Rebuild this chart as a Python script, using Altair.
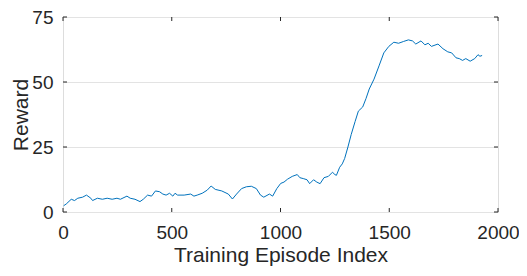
import altair as alt
import pandas as pd

episodes = [3, 15, 38, 53, 68, 90, 108, 128, 136, 158, 181, 203, 226, 248, 264, 294, 309, 331, 354, 369,
            389, 407, 425, 444, 459, 474, 490, 505, 515, 527, 557, 587, 602, 617, 640, 663, 681, 700, 730, 760,
            779, 798, 821, 843, 866, 889, 908, 923, 949, 964, 983, 1001, 1016, 1032, 1054, 1077, 1089, 1107, 1122, 1134,
            1152, 1167, 1182, 1200, 1220, 1239, 1250, 1257, 1272, 1284, 1295, 1310, 1325, 1343, 1358, 1378, 1393, 1408, 1430, 1453,
            1475, 1498, 1521, 1543, 1566, 1588, 1607, 1622, 1646, 1664, 1679, 1694, 1724, 1747, 1769, 1787, 1807, 1822, 1837, 1852,
            1872, 1893, 1908, 1917, 1927]
rewards = [2.4, 3.1, 4.9, 4.4, 5.3, 5.7, 6.5, 5.3, 4.4, 5.3, 4.9, 5.3, 4.9, 5.3, 4.9, 6.1, 5.3, 4.9, 4.0, 4.9,
           6.5, 6.1, 8.1, 7.8, 6.9, 6.5, 7.2, 6.1, 7.2, 6.5, 6.5, 6.9, 6.1, 6.5, 7.2, 8.4, 10.0, 8.7, 8.1, 6.9,
           5.0, 6.9, 9.0, 9.7, 9.9, 9.0, 6.5, 5.7, 6.9, 6.1, 9.0, 11.0, 11.5, 12.6, 13.7, 14.4, 13.2, 12.8, 12.4, 10.9,
           12.4, 11.5, 10.9, 13.2, 13.7, 15.3, 14.4, 14.1, 17.2, 18.5, 20.6, 25.0, 29.8, 34.8, 38.8, 40.4, 43.6, 47.3, 51.1, 56.2,
           61.2, 63.7, 65.3, 64.9, 65.6, 66.2, 65.8, 64.6, 65.8, 64.3, 64.9, 63.7, 64.6, 62.8, 61.6, 61.2, 59.3, 59.0, 58.3, 59.0,
           58.0, 59.0, 60.5, 59.9, 60.2]
x_ticks = [0, 500, 1000, 1500, 2000]
y_ticks = [0, 25, 50, 75]

W, H = 435, 195
FONT = "Liberation Sans"
TXT = "#262626"

df = pd.DataFrame({"episode": episodes, "reward": rewards})
xt = pd.DataFrame({"episode": x_ticks})
yt = pd.DataFrame({"reward": y_ticks})

xscale = alt.Scale(domain=[0, 2000], nice=False)
yscale = alt.Scale(domain=[0, 75], nice=False)

x_axis = alt.Axis(values=x_ticks, format="d", grid=False, ticks=False, tickSize=0, domain=False,
                  labelFlush=False, labelFont=FONT, labelFontSize=19, labelColor=TXT, labelPadding=11,
                  title="Training Episode Index", titleFont=FONT, titleFontSize=21,
                  titleFontWeight="normal", titleColor=TXT, titleY=43, titleBaseline="middle")
y_axis = alt.Axis(values=y_ticks, format="d", grid=True, gridColor="#E3E3E3", gridWidth=1, ticks=False,
                  tickSize=0, domain=False, labelFlush=False, labelFont=FONT, labelFontSize=19,
                  labelColor=TXT, labelPadding=10,
                  title="Reward", titleFont=FONT, titleFontSize=21, titleFontWeight="normal",
                  titleColor=TXT, titleX=-42, titleY=H / 2, titleBaseline="middle", titleAngle=-90)

X = alt.X("episode:Q", scale=xscale, axis=x_axis)
Y = alt.Y("reward:Q", scale=yscale, axis=y_axis)

line = alt.Chart(df).mark_line(color="#0072BD", strokeWidth=1).encode(x=X, y=Y)

tick_col = "#262626"
xb = alt.Chart(xt).mark_rule(color=tick_col, strokeWidth=1).encode(
    x=X, y=alt.value(H), y2=alt.value(H - 4))
xtop = alt.Chart(xt).mark_rule(color=tick_col, strokeWidth=1).encode(
    x=X, y=alt.value(0), y2=alt.value(4))
yl = alt.Chart(yt).mark_rule(color=tick_col, strokeWidth=1).encode(
    y=Y, x=alt.value(0), x2=alt.value(4))
yr = alt.Chart(yt).mark_rule(color=tick_col, strokeWidth=1).encode(
    y=Y, x=alt.value(W), x2=alt.value(W - 4))

chart = alt.layer(line, xb, xtop, yl, yr).properties(
    width=W, height=H,
    autosize=alt.AutoSizeParams(type="none"),
    padding={"left": 55, "top": 9, "right": 21, "bottom": 54},
).configure_view(stroke="#262626", strokeWidth=1).configure(background="white")

chart.save("out.html", embed_options={"renderer": "svg", "actions": False})
